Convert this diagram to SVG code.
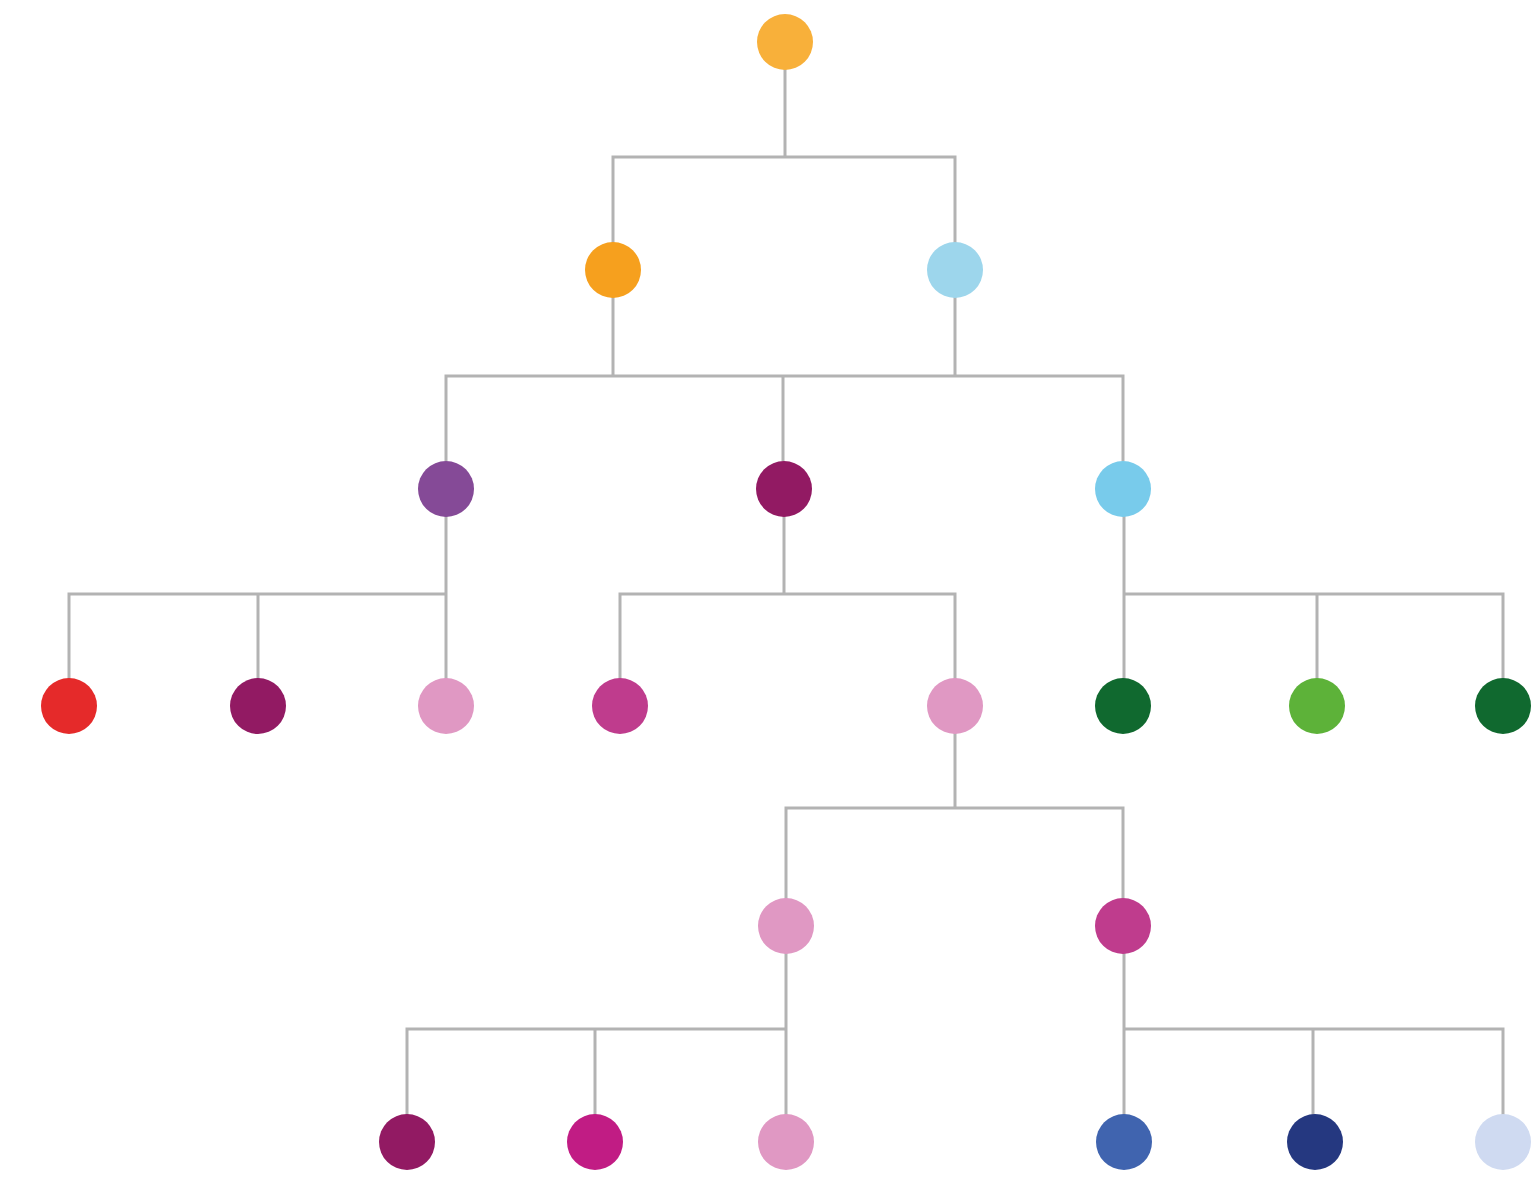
<svg xmlns="http://www.w3.org/2000/svg" width="1533" height="1177" viewBox="0 0 1533 1177">
<style>
.c{fill:none;stroke:#b3b3b3;stroke-width:3;stroke-linecap:square;stroke-linejoin:miter}
</style>
<rect width="1533" height="1177" fill="#ffffff"/>
<g id="connectors" class="c">
<path d="M785 70V157M613 242V157H955V242"/>
<path d="M613 298V376M955 298V376M446 460V376H1123V460M783 376V460"/>
<path d="M446 517V678M69 678V594H446M258 594V678"/>
<path d="M784 517V594M620 678V594H955V678"/>
<path d="M1124 517V678M1126 594H1503V678M1317 594V678"/>
<path d="M955 734V808M786 898V808H1123V898"/>
<path d="M786 954V1114M407 1114V1029H786M595 1029V1114"/>
<path d="M1124 954V1114M1126 1029H1503V1114M1313 1029V1114"/>
</g>
<g id="n0"><circle cx="785" cy="42" r="28" fill="#F8B03A"/></g>
<g id="n1"><circle cx="613" cy="270" r="28" fill="#F6A01E"/></g>
<g id="n2"><circle cx="955" cy="270" r="28" fill="#9DD6EC"/></g>
<g id="n3"><circle cx="446" cy="489" r="28" fill="#854A97"/></g>
<g id="n4"><circle cx="784" cy="489" r="28" fill="#921A63"/></g>
<g id="n5"><circle cx="1123" cy="489" r="28" fill="#78CBEB"/></g>
<g id="n6"><circle cx="69" cy="706" r="28" fill="#E52A2A"/></g>
<g id="n7"><circle cx="258" cy="706" r="28" fill="#921A63"/></g>
<g id="n8"><circle cx="446" cy="706" r="28" fill="#E098C3"/></g>
<g id="n9"><circle cx="620" cy="706" r="28" fill="#BF3C8D"/></g>
<g id="n10"><circle cx="955" cy="706" r="28" fill="#E098C3"/></g>
<g id="n11"><circle cx="1123" cy="706" r="28" fill="#10692F"/></g>
<g id="n12"><circle cx="1317" cy="706" r="28" fill="#5DB239"/></g>
<g id="n13"><circle cx="1503" cy="706" r="28" fill="#10692F"/></g>
<g id="n14"><circle cx="786" cy="926" r="28" fill="#E098C3"/></g>
<g id="n15"><circle cx="1123" cy="926" r="28" fill="#BF3C8D"/></g>
<g id="n16"><circle cx="407" cy="1142" r="28" fill="#921A63"/></g>
<g id="n17"><circle cx="595" cy="1142" r="28" fill="#C11C84"/></g>
<g id="n18"><circle cx="786" cy="1142" r="28" fill="#E098C3"/></g>
<g id="n19"><circle cx="1124" cy="1142" r="28" fill="#4064AF"/></g>
<g id="n20"><circle cx="1315" cy="1142" r="28" fill="#253880"/></g>
<g id="n21"><circle cx="1503" cy="1142" r="28" fill="#CFDAF1"/></g>
</svg>
